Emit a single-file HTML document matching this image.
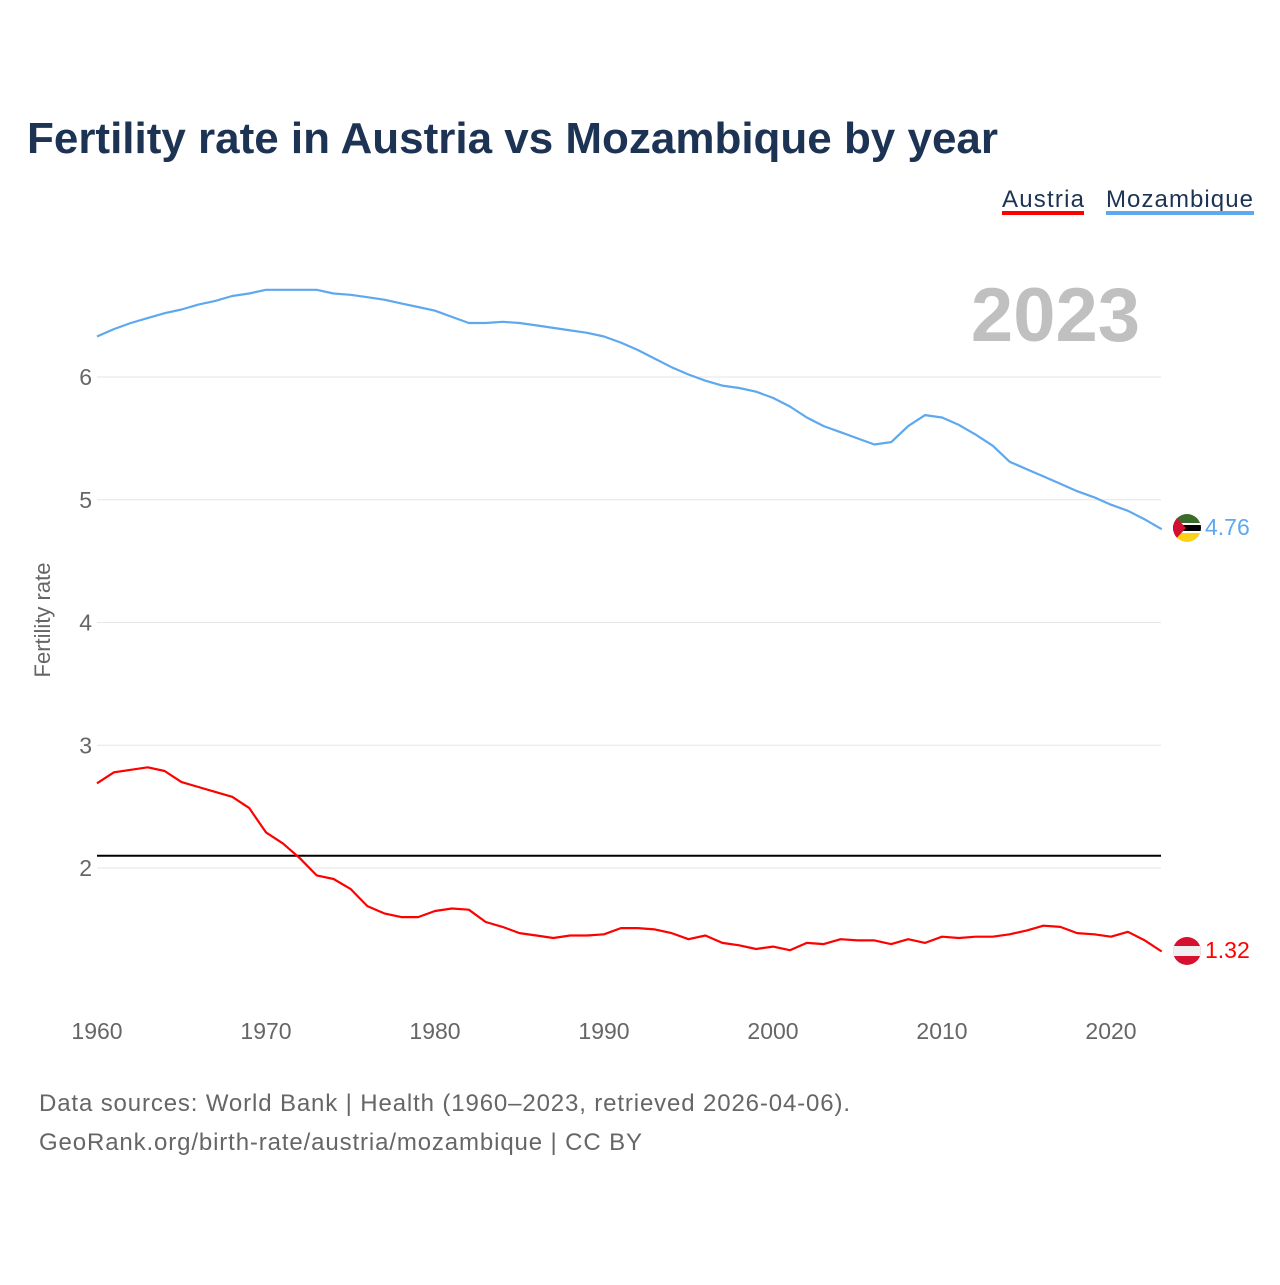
<!DOCTYPE html>
<html><head><meta charset="utf-8"><style>
body{margin:0;background:#fff;width:1280px;height:1280px;overflow:hidden;font-family:"Liberation Sans",sans-serif}
</style></head><body>
<svg width="1280" height="1280" xmlns="http://www.w3.org/2000/svg" font-family="Liberation Sans, sans-serif">
<text x="27" y="153" font-size="44" font-weight="bold" fill="#1d3354" textLength="971">Fertility rate in Austria vs Mozambique by year</text>
<g><text x="1002" y="207" font-size="24" fill="#1d3354" textLength="82">Austria</text><rect x="1002" y="211" width="82" height="4" fill="#ff0000"/></g>
<g><text x="1106" y="207" font-size="24" fill="#1d3354" textLength="147">Mozambique</text><rect x="1106" y="211" width="148" height="4" fill="#5ea8ef"/></g>
<text x="1140" y="341" font-size="76" font-weight="bold" fill="#c0c0c0" text-anchor="end">2023</text>
<text transform="translate(50,620) rotate(-90)" font-size="22" fill="#666" text-anchor="middle">Fertility rate</text>
<g id="grid"></g><g id="yt"></g><g id="xt"></g><g id="lines"></g>
<g>
<clipPath id="cm"><circle cx="1187" cy="528" r="14"/></clipPath>
<g clip-path="url(#cm)"><rect x="1173" y="514" width="28" height="10" fill="#3a6b2a"/><rect x="1173" y="523" width="28" height="10" fill="#fff"/><rect x="1173" y="525" width="28" height="6" fill="#000"/><rect x="1173" y="533" width="28" height="9" fill="#fcd116"/><polygon points="1173,514 1186,528 1173,542" fill="#d21034"/></g></g>
<text x="1205" y="535" font-size="23" fill="#5ea8ef">4.76</text>
<g>
<clipPath id="ca"><circle cx="1187" cy="951" r="14"/></clipPath>
<g clip-path="url(#ca)"><rect x="1173" y="937" width="28" height="28" fill="#d8102f"/><rect x="1173" y="946" width="28" height="10" fill="#f0f0f0"/></g></g>
<text x="1205" y="958" font-size="23" fill="#ff0000">1.32</text>
<text x="39" y="1111" font-size="24" fill="#666" textLength="811">Data sources: World Bank | Health (1960–2023, retrieved 2026-04-06).</text>
<text x="39" y="1150" font-size="24" fill="#666" textLength="603">GeoRank.org/birth-rate/austria/mozambique | CC BY</text>
</svg>
<script>
const years=[];for(let y=1960;y<=2023;y++)years.push(y);
const austria=[2.69,2.78,2.80,2.82,2.79,2.70,2.66,2.62,2.58,2.49,2.29,2.20,2.08,1.94,1.91,1.83,1.69,1.63,1.60,1.60,1.65,1.67,1.66,1.56,1.52,1.47,1.45,1.43,1.45,1.45,1.46,1.51,1.51,1.50,1.47,1.42,1.45,1.39,1.37,1.34,1.36,1.33,1.39,1.38,1.42,1.41,1.41,1.38,1.42,1.39,1.44,1.43,1.44,1.44,1.46,1.49,1.53,1.52,1.47,1.46,1.44,1.48,1.41,1.32];
const mozambique=[6.33,6.39,6.44,6.48,6.52,6.55,6.59,6.62,6.66,6.68,6.71,6.71,6.71,6.71,6.68,6.67,6.65,6.63,6.60,6.57,6.54,6.49,6.44,6.44,6.45,6.44,6.42,6.40,6.38,6.36,6.33,6.28,6.22,6.15,6.08,6.02,5.97,5.93,5.91,5.88,5.83,5.76,5.67,5.60,5.55,5.50,5.45,5.47,5.60,5.69,5.67,5.61,5.53,5.44,5.31,5.25,5.19,5.13,5.07,5.02,4.96,4.91,4.84,4.76];
const yTicks=[2,3,4,5,6];
const xTicks=[1960,1970,1980,1990,2000,2010,2020];
const replacement=2.1;
const NS="http://www.w3.org/2000/svg";
const X=y=>97+(y-1960)*(1014/60);
const Y=v=>868-(v-2)*122.75;
function mk(tag,attrs,parent,txt){const e=document.createElementNS(NS,tag);for(const k in attrs)e.setAttribute(k,attrs[k]);if(txt!==undefined)e.textContent=txt;document.getElementById(parent).appendChild(e);return e;}
yTicks.forEach(t=>{
 const g=mk('line',{x1:97,x2:1161,y1:Y(t),y2:Y(t),stroke:'#e6e6e6','stroke-width':1},'grid');
 
 
 const l=mk('text',{x:92,y:Y(t)+8,'font-size':23,fill:'#666','text-anchor':'end'},'yt',String(t));
 
 
});
xTicks.forEach(t=>{
 const l=mk('text',{x:X(t),y:1039,'font-size':23,fill:'#666','text-anchor':'middle'},'xt',String(t));
 
 
});
const ref=mk('line',{x1:97,x2:1161,y1:Y(replacement),y2:Y(replacement),stroke:'#000','stroke-width':2},'lines');


function path(vals,color,name){
 const d=vals.map((v,i)=>(i?'L':'M')+X(years[i]).toFixed(1)+','+Y(v).toFixed(1)).join(' ');
 const p=mk('path',{d:d,fill:'none',stroke:color,'stroke-width':2.2,'stroke-linejoin':'round'},'lines');
 
 
}
path(mozambique,'#5ea8ef','line-mozambique');
path(austria,'#ff0000','line-austria');
</script>
</body></html>
